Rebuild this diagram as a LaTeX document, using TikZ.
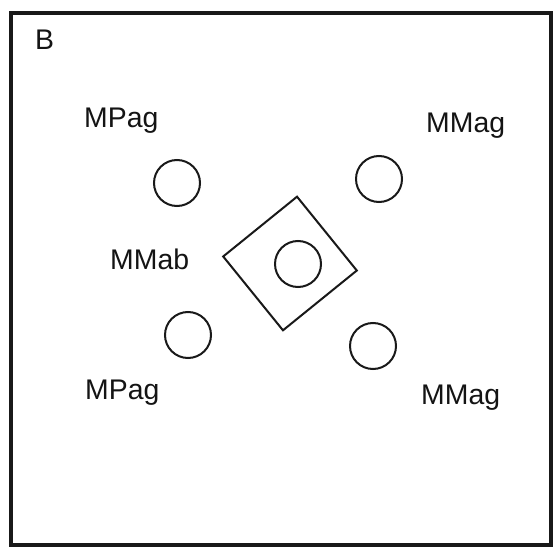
\documentclass[tikz,border=0pt]{standalone}
\usepackage{fontspec}
\setmainfont{Liberation Sans}
\begin{document}
\begin{tikzpicture}[x=1bp,y=-1bp,
  ring/.style={draw=black!90, line width=2bp, circle, inner sep=0pt, minimum size=46bp},
  lbl/.style={anchor=base west, inner sep=0pt, text=black!92, font=\fontsize{28.5}{30}\selectfont},
  frame/.style={draw=black!90, line width=4bp},
  cell/.style={draw=black!90, line width=2bp, rectangle, inner sep=0pt, minimum size=95bp, rotate=39}]
\useasboundingbox (0,0) rectangle (553,547);
\fill[white] (0,0) rectangle (553,547);
\draw[frame] (11,13) rectangle (551,545);
\node[lbl] (b) at (35,50) {B};
\node[lbl] (mpag1) at (84,128) {MPag};
\node[lbl] (mmag1) at (426,133) {MMag};
\node[lbl] (mmab) at (110,269) {MMab};
\node[lbl] (mpag2) at (85,399) {MPag};
\node[lbl] (mmag2) at (421,404) {MMag};
\node[ring] (c1) at (177,183) {};
\node[ring] (c2) at (379,179) {};
\node[ring] (c3) at (188,335) {};
\node[ring] (c4) at (373,346) {};
\node[cell] (sq) at (290,263.5) {};
\node[ring] (c0) at (298,264) {};
\end{tikzpicture}
\end{document}
